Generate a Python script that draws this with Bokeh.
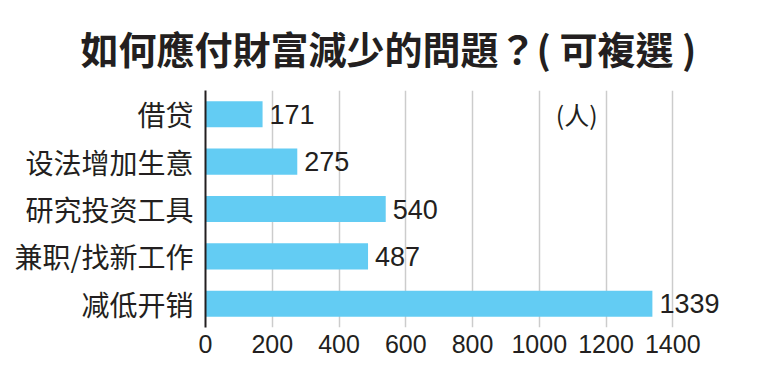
from bokeh.plotting import figure
from bokeh.models import ColumnDataSource, LabelSet, Label, FixedTicker, Range1d, Title
from bokeh.core.properties import value
from bokeh.embed import file_html
from bokeh.resources import INLINE

categories = ["借贷", "设法增加生意", "研究投资工具", "兼职/找新工作", "减低开销"]
values = [171, 275, 540, 487, 1339]
tick_values = [0, 200, 400, 600, 800, 1000, 1200, 1400]
title_text = "如何應付財富減少的問題？( 可複選 )"
unit_text = "(人)"

BAR = "#63CCF3"
INK = "#231f20"

src = ColumnDataSource(dict(cat=categories, val=values, lab=[str(v) for v in values]))

p = figure(frame_width=534, frame_height=237, y_range=list(reversed(categories)),
           x_range=Range1d(0, 1600), output_backend="svg", toolbar_location=None,
           min_border_left=205, min_border_right=21, min_border_top=90,
           min_border_bottom=49)
p.outline_line_color = None
p.background_fill_color = "white"
p.border_fill_color = "white"

p.hbar(y="cat", right="val", left=0, height=0.55, source=src, color=BAR, line_color=None)

labels = LabelSet(x="val", y="cat", text="lab", source=src, x_offset=7,
                  text_baseline="middle", text_align="left",
                  text_font=value("Liberation Sans"), text_font_size="27px",
                  text_color=INK)
p.add_layout(labels)

# x axis
p.xaxis.ticker = FixedTicker(ticks=tick_values)
p.xaxis.axis_line_color = None
p.xaxis.major_tick_line_color = None
p.xaxis.minor_tick_line_color = None
p.xaxis.major_label_text_font = "Liberation Sans"
p.xaxis.major_label_text_font_size = "25px"
p.xaxis.major_label_text_color = INK
p.xaxis.major_label_standoff = 1

# y axis
p.yaxis.axis_line_color = INK
p.yaxis.axis_line_width = 2
p.yaxis.major_tick_line_color = None
p.yaxis.minor_tick_line_color = None
p.yaxis.major_label_text_font = "Noto Sans CJK SC"
p.yaxis.major_label_text_font_size = "28px"
p.yaxis.major_label_text_color = INK
p.yaxis.major_label_standoff = 6

p.xgrid.grid_line_color = "#cccccc"
p.xgrid.grid_line_width = 1.5
p.ygrid.grid_line_color = None

p.add_layout(Label(x=1112, y=214, y_units="screen", text=unit_text, text_align="center",
                   text_baseline="middle", text_font="Noto Sans CJK SC",
                   text_font_size="25px", text_color=INK))

# spacer nearest the frame, then the real title above it
p.add_layout(Title(text=" ", text_font_size="8px", standoff=0), "above")
p.add_layout(Title(text=title_text, align="left", offset=-125,
                   text_font="Noto Sans CJK TC", text_font_style="bold",
                   text_font_size="38px", text_color=INK), "above")

open("out.html", "w").write(file_html(p, INLINE))
